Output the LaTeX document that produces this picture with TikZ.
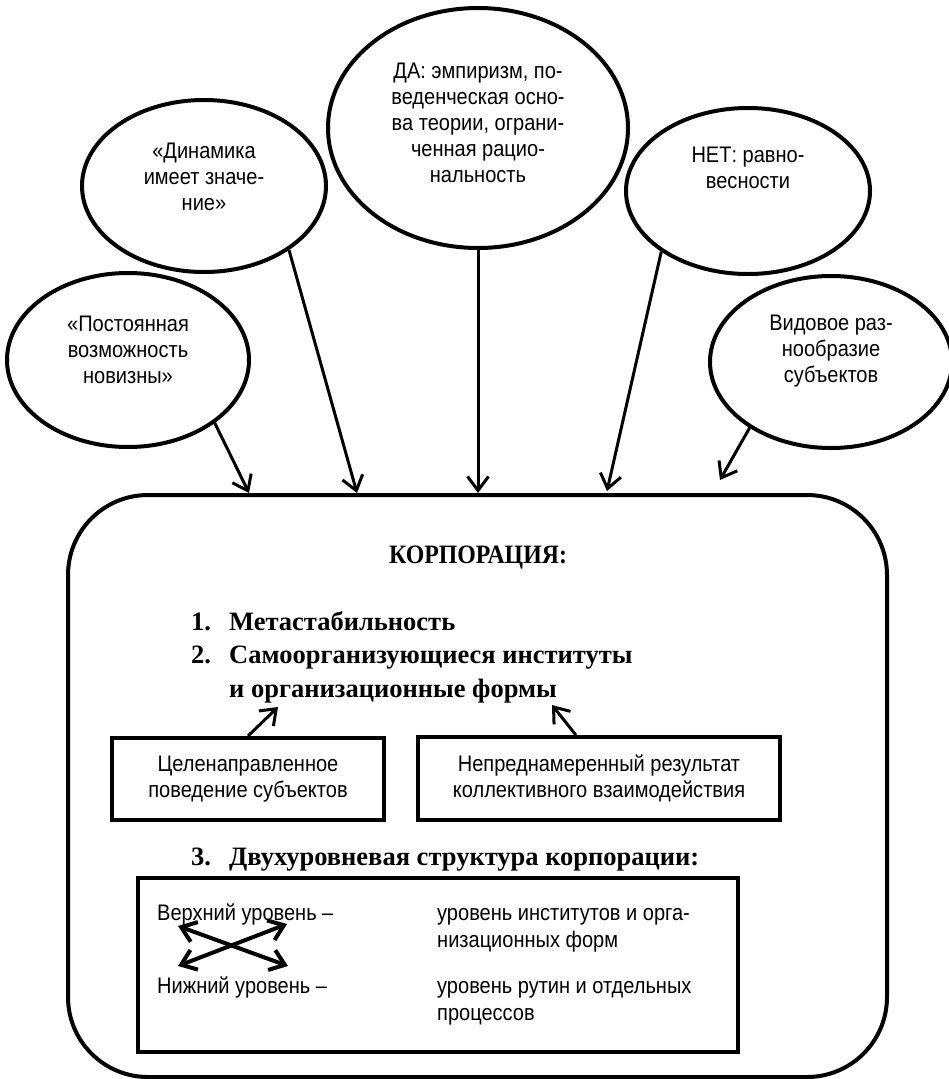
\documentclass[tikz,border=0pt]{standalone}
\usepackage{fontspec}
\setmainfont{Liberation Sans}[FakeStretch=0.89]
\newfontfamily\hdfont{Liberation Serif}
\newfontfamily\hdnarrow{Liberation Serif}[FakeStretch=0.9]
\usetikzlibrary{arrows.meta,positioning,calc,shapes.geometric}
\tikzset{
  oval/.style={draw,ellipse,line width=4pt,inner sep=0pt},
  otxt/.style={align=center,inner sep=0pt,anchor=north,font=\fontsize{22.5}{26}\selectfont},
  blk/.style={draw,rectangle,line width=4pt,inner sep=0pt,align=center,font=\fontsize{22.5}{25.5}\selectfont},
  corpblk/.style={draw,rectangle,rounded corners=80pt,line width=4pt,inner sep=0pt},
  lbl/.style={inner sep=0pt,anchor=base west,font=\fontsize{22.5}{27}\selectfont},
  hdr/.style={inner sep=0pt,font=\hdfont\bfseries\fontsize{26.5}{33.5}\selectfont},
  arr/.style={-{Straight Barb[length=14pt,width=21pt]},line width=3pt},
  darr/.style={{Straight Barb[length=14pt,width=21pt]}-{Straight Barb[length=14pt,width=21pt]},line width=4pt}
}

\begin{document}
\begin{tikzpicture}[x=1pt,y=-1pt]
  \useasboundingbox (0,0) rectangle (948,1079);
  % Ovals with the factors
  \node[oval,minimum width=242pt,minimum height=174pt] (e1) at (128,360) {};
  \node[oval,minimum width=244pt,minimum height=172pt] (e2) at (204,186) {};
  \node[oval,minimum width=300pt,minimum height=240pt] (e3) at (478,128) {};
  \node[oval,minimum width=244pt,minimum height=166pt] (e4) at (748,191) {};
  \node[oval,minimum width=242pt,minimum height=172pt] (e5) at (831,362) {};
  \node[otxt] (t1) at (128,316) {«Постоянная\\возможность\\новизны»};
  \node[otxt] (t2) at (204,143) {«Динамика\\имеет значе-\\ние»};
  \node[otxt] (t3) at (478,63) {ДА: эмпиризм, по-\\веденческая осно-\\ва теории, ограни-\\ченная рацио-\\нальность};
  \node[otxt] (t4) at (748,147) {НЕТ: равно-\\весности};
  \node[otxt] (t5) at (831,315) {Видовое раз-\\нообразие\\субъектов};

  % Corporation frame
  \node[corpblk,minimum width=819pt,minimum height=582pt] (corp) at (477.5,786) {};
  \node[hdr,anchor=base,font=\hdnarrow\bfseries\fontsize{26.5}{33.5}\selectfont] (title) at (478,563) {КОРПОРАЦИЯ:};

  % Arrows into the frame
  \coordinate (p1) at (249,493);
  \coordinate (p2) at (357,493);
  \coordinate (p3) at (478,493);
  \coordinate (p4) at (607,491);
  \coordinate (p5) at (720,480);
  \draw[arr] (e1.-36) -- (p1);
  \draw[arr] (e2.-37) -- (p2);
  \draw[arr] (e3.south) -- (p3);
  \draw[arr] (e4.215) -- (p4);
  \draw[arr] (e5.219) -- (p5);

  % Items 1 and 2
  \node[hdr,anchor=base west] (items) at (191,630) {\begin{tabular}[t]{@{}p{38pt}@{}l@{}}1.&Метастабильность\\2.&Самоорганизующиеся институты\\&и организационные формы\end{tabular}};
  \node[blk,minimum width=272pt,minimum height=82pt] (boxa) at (248,779) {Целенаправленное\\поведение субъектов};
  \node[blk,minimum width=362pt,minimum height=83pt] (boxb) at (599,778.5) {Непреднамеренный результат\\коллективного взаимодействия};
  \coordinate (q1) at (278,707);
  \coordinate (q2) at (552,705);
  \draw[arr] (boxa.north) -- (q1);
  \draw[arr] (boxb.118) -- (q2);

  % Item 3: two levels
  \node[hdr,anchor=base west] (item3) at (191,865) {\makebox[38pt][l]{3.}Двухуровневая структура корпорации:};
  \node[draw,line width=4pt,minimum width=600pt,minimum height=174pt] (boxc) at (438,965) {};
  \node[lbl] (upper) at (157,920) {Верхний уровень –};
  \node[lbl] (lower) at (157,993) {Нижний уровень –};
  \node[lbl] (upperr) at (437,920) {\begin{tabular}[t]{@{}l@{}}уровень институтов и орга-\\низационных форм\end{tabular}};
  \node[lbl] (lowerr) at (437,993) {\begin{tabular}[t]{@{}l@{}}уровень рутин и отдельных\\процессов\end{tabular}};
  \coordinate (ul) at (178,926);
  \coordinate (ur) at (287,924);
  \coordinate (ll) at (178,966);
  \coordinate (lr) at (288,966);
  \draw[darr] (ul) -- (lr);
  \draw[darr] (ll) -- (ur);
\end{tikzpicture}
\end{document}
